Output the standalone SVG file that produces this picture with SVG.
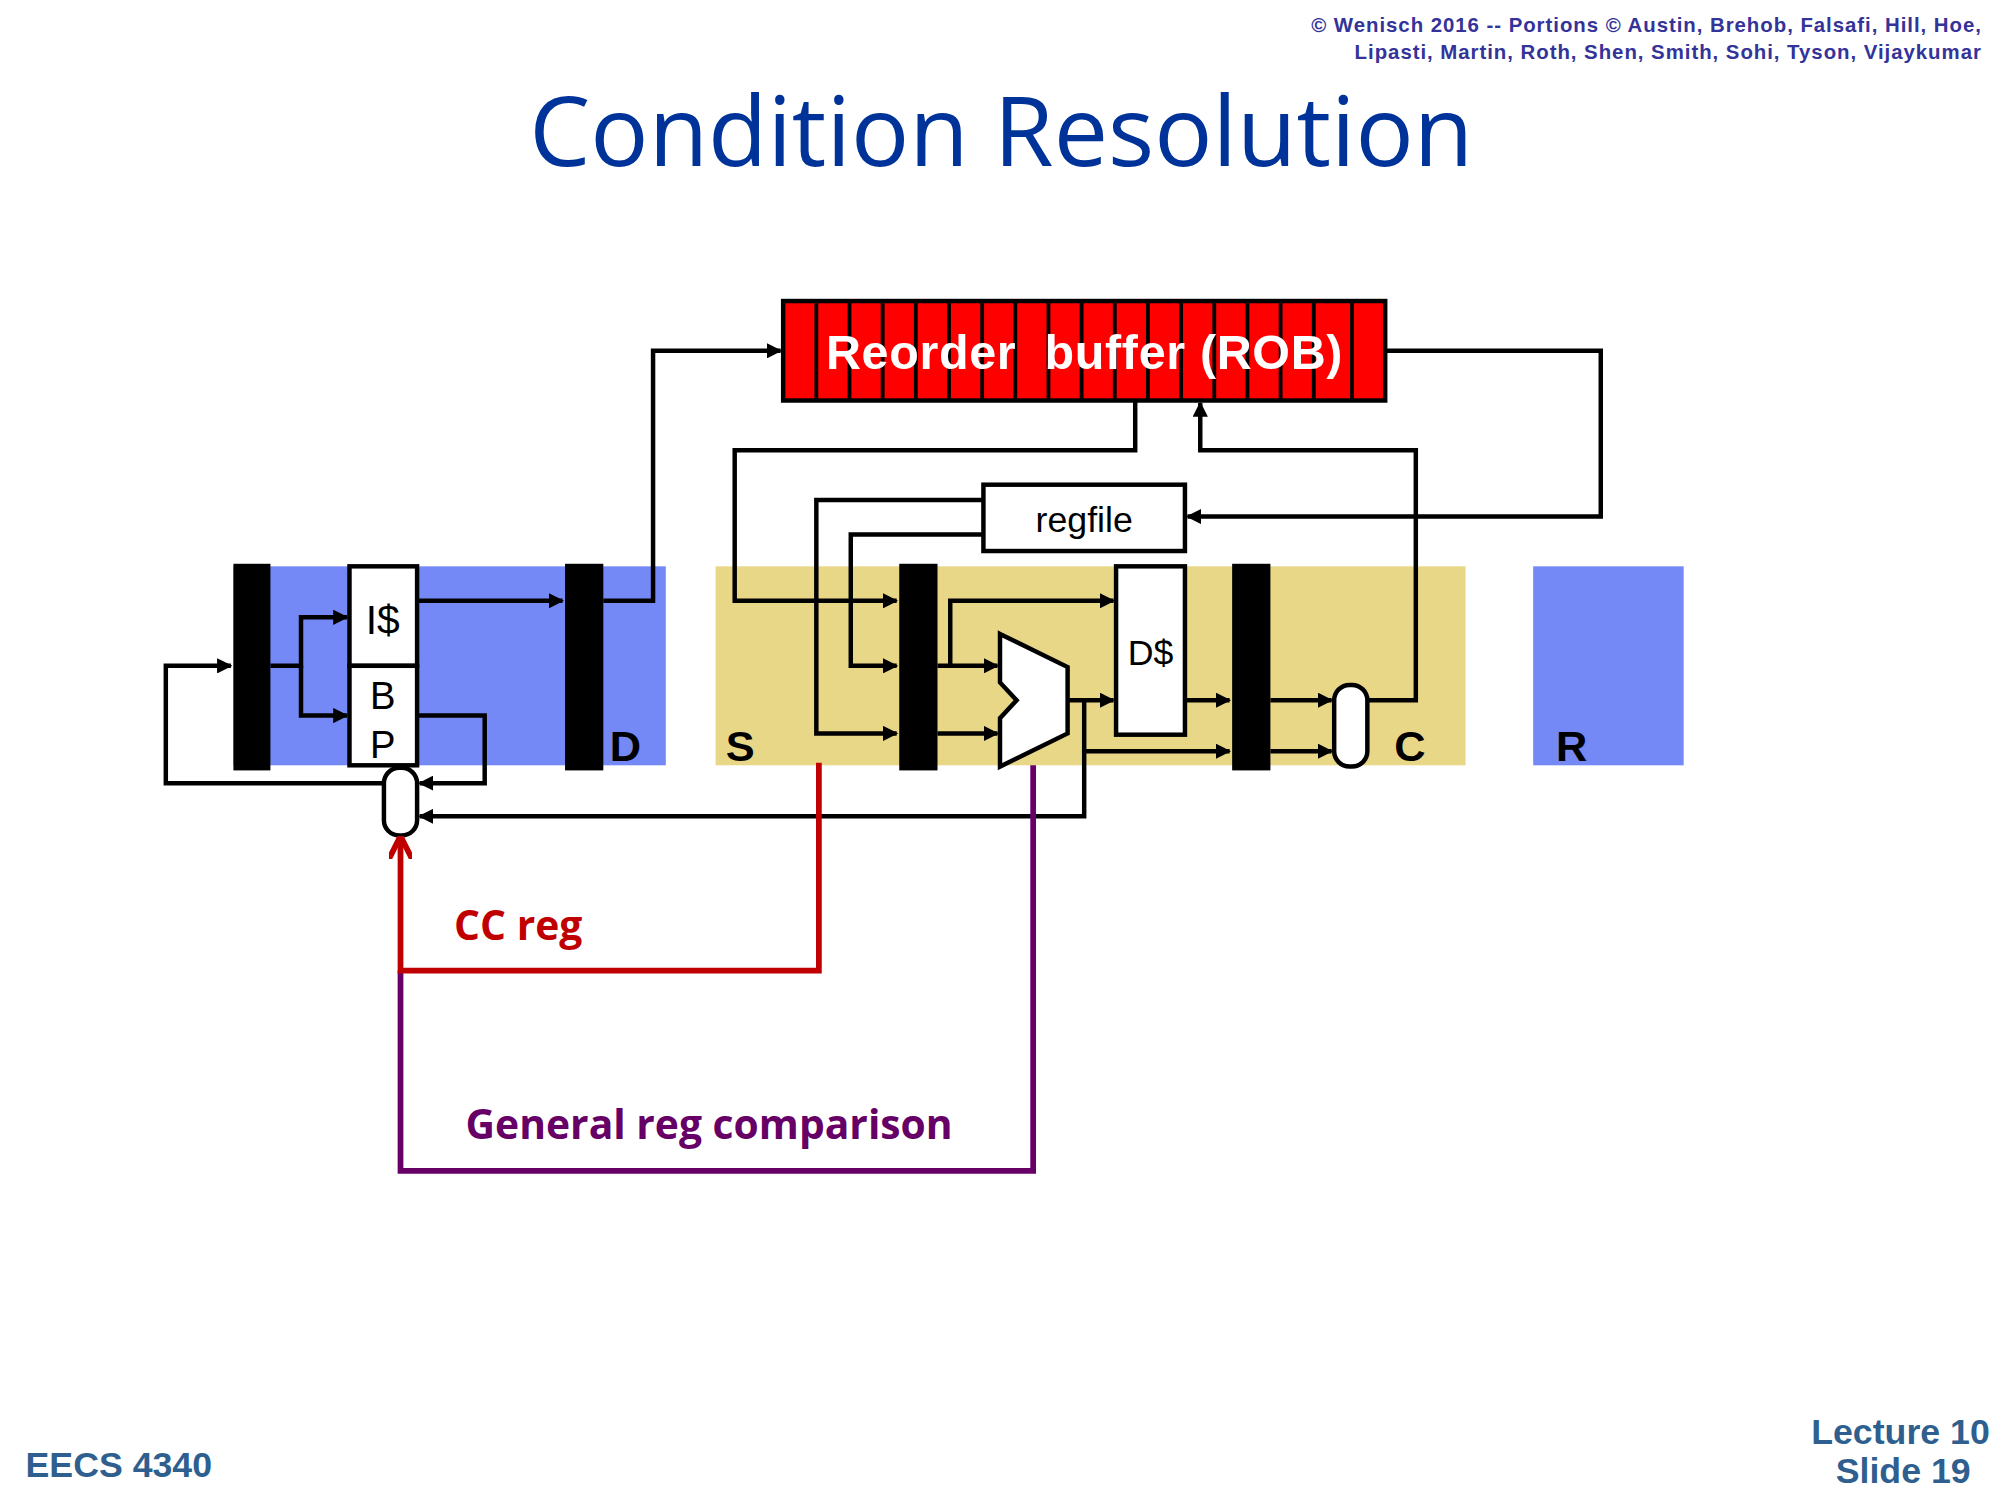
<svg xmlns="http://www.w3.org/2000/svg" width="2000" height="1500" viewBox="0 0 2000 1500">
<defs>
<marker id="ah2" viewBox="0 0 10 10" refX="9" refY="5" markerWidth="12" markerHeight="12" orient="auto" markerUnits="userSpaceOnUse"><path d="M0,0 L10,5 L0,10 z" fill="#000"/></marker>
<marker id="ahr" viewBox="0 0 10 10" refX="8" refY="5" markerWidth="18" markerHeight="18" orient="auto" markerUnits="userSpaceOnUse"><path d="M0,0 L10,5 L0,10" fill="none" stroke="#c00000" stroke-width="2.5"/></marker>
<style>
.w{fill:none;stroke:#000;stroke-width:3.5;marker-end:url(#ah2)}
.box{fill:#fff;stroke:#000;stroke-width:3.5}
.bar{fill:#000}
.lbl{font-family:"Liberation Sans",Arial,sans-serif;font-size:34px;font-weight:bold;fill:#000}
.t{font-family:"Liberation Sans",Arial,sans-serif;fill:#000}
.ft{font-family:"Liberation Sans",Arial,sans-serif;fill:#2f5f8f}
</style>
</defs>
<rect width="2000" height="1500" fill="#fff"/>
<g transform="scale(1.27551)">
<g id="header">
<text x="1553" y="25" text-anchor="end" font-family="Liberation Sans,Arial,sans-serif" font-size="16" font-weight="bold" fill="#333399" textLength="525">© Wenisch 2016 -- Portions © Austin, Brehob, Falsafi, Hill, Hoe,</text>
<text x="1553" y="46" text-anchor="end" font-family="Liberation Sans,Arial,sans-serif" font-size="16" font-weight="bold" fill="#333399" textLength="491">Lipasti, Martin, Roth, Shen, Smith, Sohi, Tyson, Vijaykumar</text>
<text x="785" y="130" text-anchor="middle" font-family="Open Sans,Liberation Sans,sans-serif" font-size="76" fill="#003399">Condition Resolution</text>
</g>
<g id="stages">
<rect x="183" y="444" width="339" height="156" fill="#7489f5"/>
<rect x="561" y="444" width="588" height="156" fill="#e9d788"/>
<rect x="1202" y="444" width="118" height="156" fill="#7489f5"/>
<text class="lbl" x="478" y="597">D</text>
<text class="lbl" x="569" y="597">S</text>
<text class="lbl" x="1093" y="597">C</text>
<text class="lbl" x="1220" y="597">R</text>
</g>
<g id="bars">
<rect class="bar" x="183" y="442" width="29" height="162"/>
<rect class="bar" x="443" y="442" width="30" height="162"/>
<rect class="bar" x="705" y="442" width="30" height="162"/>
<rect class="bar" x="966" y="442" width="30" height="162"/>
</g>
<g id="rob">
<rect x="614" y="236" width="472" height="78" fill="#ff0000" stroke="#000" stroke-width="3.5"/>
<path d="M640,236V314M666,236V314M692,236V314M718,236V314M744,236V314M770,236V314M796,236V314M822,236V314M848,236V314M874,236V314M900,236V314M926,236V314M952,236V314M978,236V314M1004,236V314M1030,236V314M1060,236V314" stroke="#000" stroke-width="3"/>
<text x="850" y="289" text-anchor="middle" font-family="Liberation Sans,Arial,sans-serif" font-size="38" font-weight="bold" fill="#fff" xml:space="preserve" textLength="405">Reorder  buffer (ROB)</text>
</g>
<g id="icache"><rect class="box" x="274" y="444" width="53" height="78"/><text class="t" x="300" y="497" font-size="32" text-anchor="middle">I$</text></g>
<g id="bp"><rect class="box" x="274" y="522" width="53" height="78"/><text class="t" x="300" y="556" font-size="30" text-anchor="middle">B</text><text class="t" x="300" y="594" font-size="30" text-anchor="middle">P</text></g>
<g id="bpmux"><rect class="box" x="301" y="602" width="26" height="53" rx="12"/></g>
<g id="regfile"><rect class="box" x="771" y="380" width="158" height="52"/><text class="t" x="850" y="417" font-size="28" text-anchor="middle">regfile</text></g>
<g id="dcache"><rect class="box" x="875" y="444" width="54" height="132"/><text class="t" x="902" y="521" font-size="28" text-anchor="middle">D$</text></g>
<g id="alu"><path class="box" d="M784,497 L837,523 L837,575 L784,601 L784,563 L797,549 L784,535 z"/></g>
<g id="cmux"><rect class="box" x="1046" y="537" width="26" height="64" rx="12"/></g>
<g id="connectors">
<path class="w" d="M327,471H441"/>
<path class="w" d="M473,471H512V275H612"/>
<path class="w" d="M1086,275H1255V405H931"/>
<path class="w" d="M890,314V353H576V471H703"/>
<path class="w" d="M771,392H640V575H703"/>
<path class="w" d="M771,419H667V522H703"/>
<path class="w" d="M745,522V471H873"/>
<path class="w" d="M735,522H782"/>
<path class="w" d="M735,575H782"/>
<path class="w" d="M837,549H873"/>
<path class="w" d="M850,549V589H964"/>
<path class="w" d="M850,589V640H329"/>
<path class="w" d="M929,549H964"/>
<path class="w" d="M996,549H1044"/>
<path class="w" d="M996,589H1044"/>
<path class="w" d="M1072,549H1110V353H941V316"/>
<path class="w" d="M301,614H130V522H181"/>
<path class="w" d="M212,522H236V484H272"/>
<path class="w" d="M236,522V561H272"/>
<path class="w" d="M327,561H380V614H329"/>
<path d="M810,600V918H314V761" fill="none" stroke="#660066" stroke-width="4.5"/>
<path d="M642,598V761H314V659" fill="none" stroke="#c00000" stroke-width="4.5" marker-end="url(#ahr)"/>
</g>
<g id="labels">
<text x="356" y="737" font-family="Open Sans,Liberation Sans,sans-serif" font-size="32" font-weight="bold" fill="#c00000">CC reg</text>
<text x="365" y="893" font-family="Open Sans,Liberation Sans,sans-serif" font-size="32" font-weight="bold" fill="#660066">General reg comparison</text>
</g>
<g id="footer">
<text class="ft" x="20" y="1158" font-size="28" font-weight="bold">EECS 4340</text>
<text class="ft" x="1560" y="1132" font-size="28" font-weight="bold" text-anchor="end">Lecture 10</text>
<text class="ft" x="1545" y="1163" font-size="28" font-weight="bold" text-anchor="end">Slide 19</text>
</g>
</g>
</svg>
